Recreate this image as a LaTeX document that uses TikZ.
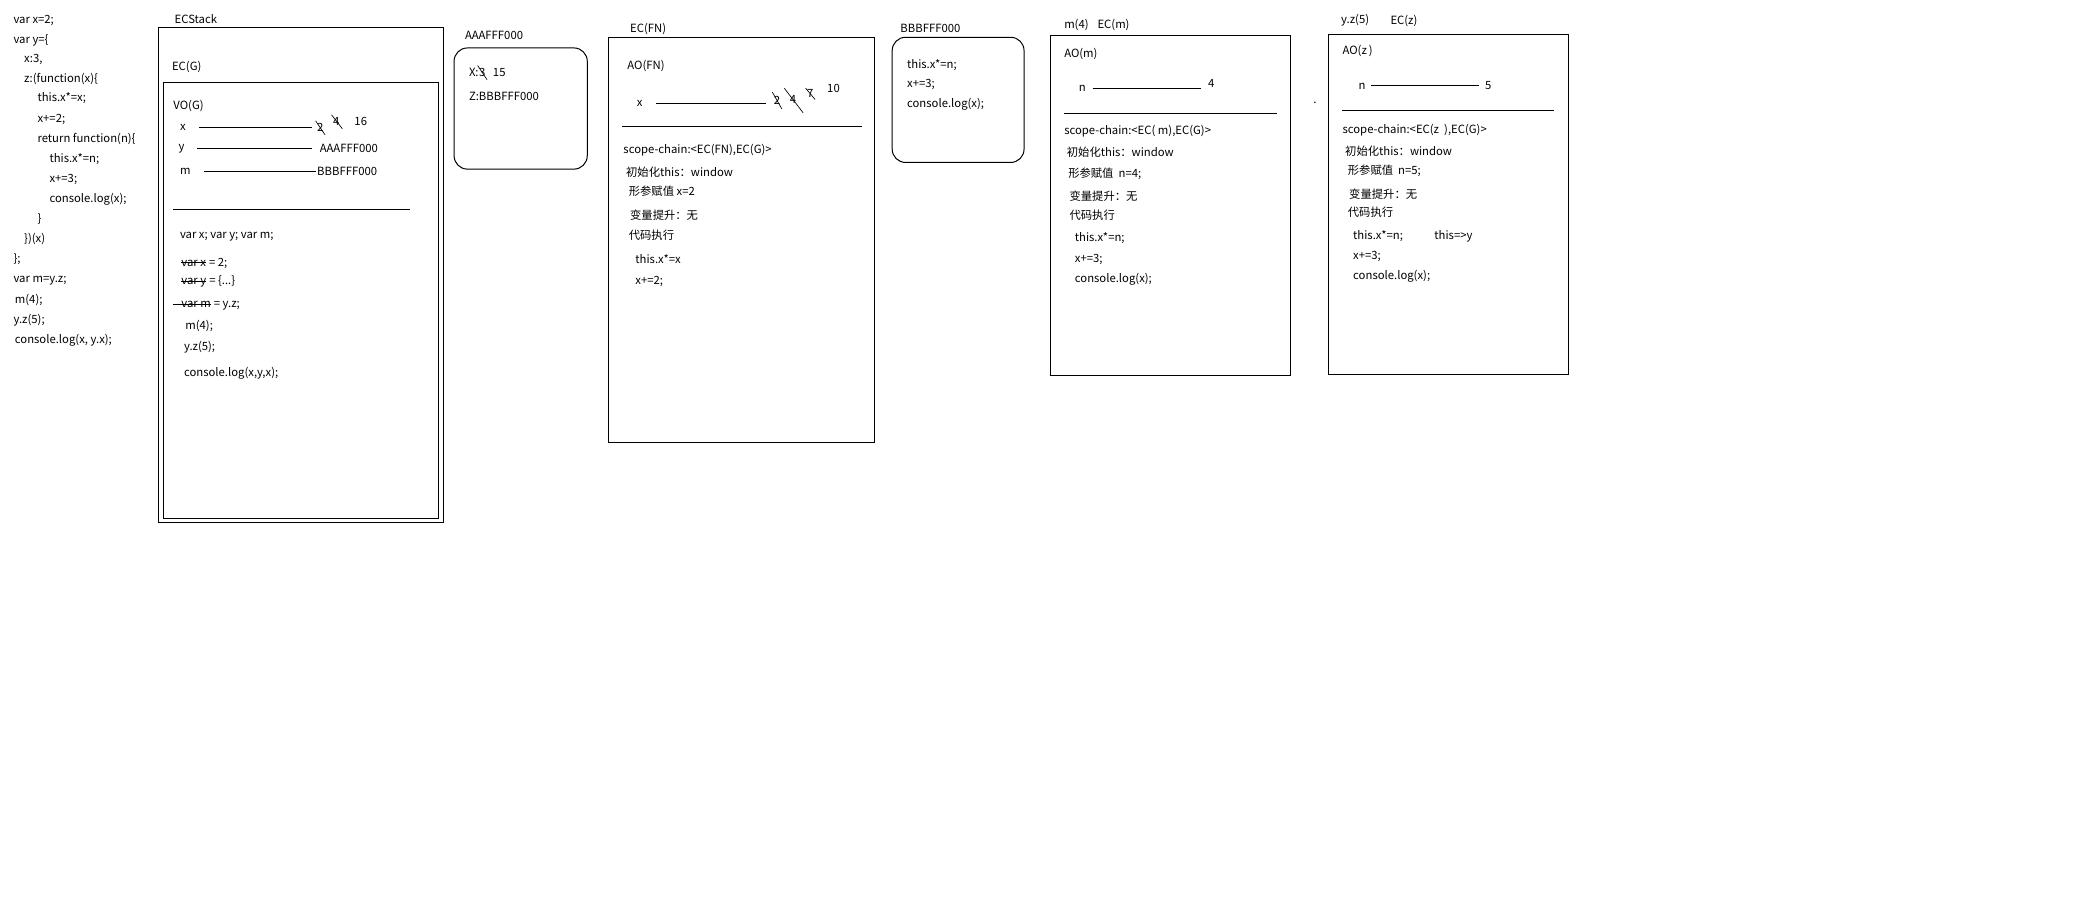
\documentclass[tikz,border=0pt]{standalone}
\usepackage{fontspec}
\setmainfont{Noto Sans CJK SC}
\usepackage{tikz}
\tikzstyle{txt} = [anchor=west, inner sep=0pt, yshift=-1.5pt, font=\fontsize{8.5}{10}\selectfont]
\tikzstyle{panel} = [draw=black, line width=0.75pt, inner sep=0pt, outer sep=0pt]
\tikzstyle{memo} = [panel, rounded corners=10pt]
\tikzstyle{link} = [line width=0.6pt]
\tikzstyle{cross} = [line width=0.5pt]

\begin{document}
\begin{tikzpicture}[x=1pt, y=-1pt]
    \useasboundingbox (0,0) rectangle (1568,679);

        % source code
        \node (c1) [txt] at (10,14) {var x=2;};
        \node (c2) [txt] at (10,29) {var y=\{};
        \node (c3) [txt] at (18,43) {x:3,};
        \node (c4) [txt] at (18,58) {z:(function(x)\{};
        \node (c5) [txt] at (28,72) {this.x*=x;};
        \node (c6) [txt] at (28,88) {x+=2;};
        \node (c7) [txt] at (28,103) {return function(n)\{};
        \node (c8) [txt] at (37,118) {this.x*=n;};
        \node (c9) [txt] at (37,133) {x+=3;};
        \node (c10) [txt] at (37,148) {console.log(x);};
        \node (c11) [txt] at (28,163) {\}};
        \node (c12) [txt] at (18,178) {\})(x)};
        \node (c13) [txt] at (10,193) {\};};
        \node (c14) [txt] at (10,209) {var m=y.z;};
        \node (c15) [txt] at (11,224) {m(4);};
        \node (c16) [txt] at (10,239) {y.z(5);};
        \node (c17) [txt] at (11,254) {console.log(x, y.x);};

        % ECStack / EC(G)
        \node (ecsl) [txt] at (131,13) {ECStack};
        \node (ecs) [panel, minimum width=214pt, minimum height=371pt] at (226,206.5) {};
        \node (ecgl) [txt] at (129,49) {EC(G)};
        \node (ecg) [panel, minimum width=206pt, minimum height=327pt] at (226,225.5) {};
        \node (vog) [txt] at (130,78) {VO(G)};
        \node (gx) [txt] at (135,94) {x};
        \node (gx2) [txt] at (238,94.5) {2};
        \node (gx4) [txt] at (250,90) {4};
        \node (gx16) [txt] at (266,90) {16};
        \node (gy) [txt] at (134,110) {y};
        \node (gya) [txt] at (240,110) {AAAFFF000};
        \node (gm) [txt] at (135,127) {m};
        \node (gmb) [txt] at (238,127) {BBBFFF000};
        \draw[link, shorten <=10pt, shorten >=4pt] (gx.east) -- (gx.east -| gx2.west);
        \draw[link, shorten <=9pt, shorten >=6pt] (gy.east) -- (gy.east -| gya.west);
        \draw[link, shorten <=10pt, shorten >=1pt] (gm.east) -- (gm.east -| gmb.west);
        \draw[cross] ([shift={(-1,-2)}]gx2.north west) -- ([shift={(1,2)}]gx2.south east);
        \draw[cross] ([shift={(-1,-2)}]gx4.north west) -- ([shift={(2,2)}]gx4.south east);
        \draw[link] (130,157) -- (308,157);
        \node (g1) [txt] at (135,176) {var x; var y; var m;};
        \node (g2) [txt] at (136,196) {var x};
        \node (g2v) [txt, anchor=base west, yshift=1.5pt] at (g2.base east) {\ = 2;};
        \node (g3) [txt] at (136,211) {var y};
        \node (g3v) [txt, anchor=base west, yshift=1.5pt] at (g3.base east) {\ = \{...\}};
        \node (g4) [txt] at (136,227) {var m};
        \node (g4v) [txt, anchor=base west, yshift=1.5pt] at (g4.base east) {\ = y.z;};
        \draw[cross] ([yshift=2.5pt]g2.base west) -- ([yshift=2.5pt]g2.base east);
        \draw[cross] ([yshift=2.5pt]g3.base west) -- ([yshift=2.5pt]g3.base east);
        \draw[cross] ([xshift=-6pt,yshift=2.5pt]g4.base west) -- ([yshift=2.5pt]g4.base east);
        \node (g5) [txt] at (139,243) {m(4);};
        \node (g6) [txt] at (138,259) {y.z(5);};
        \node (g7) [txt] at (138,279) {console.log(x,y,x);};

        % object AAAFFF000
        \node (al) [txt] at (349,25) {AAAFFF000};
        \node (aaa) [memo, minimum width=100pt, minimum height=91pt] at (391,81.5) {};
        \node (ax) [txt] at (352,53) {X:};
        \node (ax3) [txt, yshift=1.5pt] at (ax.east) {3};
        \node (ax15) [txt] at (370,53) {15};
        \node (az) [txt] at (352,71) {Z:BBBFFF000};
        \draw[cross] ([shift={(-1,-2)}]ax3.north west) -- ([shift={(1,2)}]ax3.south east);

        % EC(FN)
        \node (fnl) [txt] at (473,20) {EC(FN)};
        \node (ecfn) [panel, minimum width=200pt, minimum height=304pt] at (557,180) {};
        \node (fnao) [txt] at (471,48) {AO(FN)};
        \node (fx) [txt] at (478,76) {x};
        \node (fx2) [txt] at (581,74) {2};
        \node (fx4) [txt] at (593,73) {4};
        \node (fx7) [txt] at (606,69) {7};
        \node (fx10) [txt] at (621,65) {10};
        \draw[link, shorten <=10pt, shorten >=6pt] (fx.east) -- (fx.east -| fx2.west);
        \draw[cross] ([shift={(-1,-3)}]fx2.north west) -- ([shift={(1,3)}]fx2.south east);
        \draw[cross] ([shift={(-4,-5)}]fx4.north west) -- ([shift={(5,7)}]fx4.south east);
        \draw[cross] ([shift={(-1,-1)}]fx7.north west) -- ([shift={(1,1)}]fx7.south east);
        \draw[link] (467,95) -- (647,95);
        \node (fn1) [txt] at (468,111) {scope-chain:<EC(FN),EC(G)>};
        \node (fn2) [txt] at (470,128) {初始化this：window};
        \node (fn3) [txt] at (472,142) {形参赋值 x=2};
        \node (fn4) [txt] at (473,160) {变量提升：无};
        \node (fn5) [txt] at (472,175) {代码执行};
        \node (fn6) [txt] at (477,193) {this.x*=x};
        \node (fn7) [txt] at (477,210) {x+=2;};

        % object BBBFFF000
        \node (bl) [txt] at (676,20) {BBBFFF000};
        \node (bbb) [memo, minimum width=99pt, minimum height=94pt] at (719.5,75) {};
        \node (b1) [txt] at (681,47) {this.x*=n;};
        \node (b2) [txt] at (681,62) {x+=3;};
        \node (b3) [txt] at (681,77) {console.log(x);};

        % EC(m)
        \node (ml) [txt] at (799,17) {m(4)};
        \node (ecml) [txt] at (824,17) {EC(m)};
        \node (ecm) [panel, minimum width=180pt, minimum height=255pt] at (879,154.5) {};
        \node (mao) [txt] at (799,39) {AO(m)};
        \node (mn) [txt] at (810,65) {n};
        \node (mn4) [txt] at (907,61) {4};
        \draw[link, shorten <=5pt, shorten >=5pt] (mn.east) -- (mn.east -| mn4.west);
        \draw[link] (799,85) -- (959,85);
        \node (m1) [txt] at (799,97) {scope-chain:<EC( m),EC(G)>};
        \node (m2) [txt] at (801,113) {初始化this：window};
        \node (m3) [txt] at (802,129) {形参赋值\ \ n=4;};
        \node (m4) [txt] at (803,146) {变量提升：无};
        \node (m5) [txt] at (803,160) {代码执行};
        \node (m6) [txt] at (807,177) {this.x*=n;};
        \node (m7) [txt] at (807,193) {x+=3;};
        \node (m8) [txt] at (807,208) {console.log(x);};

        \node (dot) [txt] at (986,76) {.};

        % EC(z)
        \node (zl) [txt] at (1007,14) {y.z(5)};
        \node (eczl) [txt] at (1044,14) {EC(z)};
        \node (ecz) [panel, minimum width=180pt, minimum height=255pt] at (1088,153.5) {};
        \node (zao) [txt] at (1008,37) {AO(z\,)};
        \node (zn) [txt] at (1020,63) {n};
        \node (zn5) [txt] at (1115,63) {5};
        \draw[link, shorten <=4pt, shorten >=4pt] (zn.east) -- (zn.east -| zn5.west);
        \draw[link] (1008,83) -- (1167,83);
        \node (z1) [txt] at (1008,96) {scope-chain:<EC(z\ \ ),EC(G)>};
        \node (z2) [txt] at (1010,112) {初始化this：window};
        \node (z3) [txt] at (1012,127) {形参赋值\ \ n=5;};
        \node (z4) [txt] at (1013,144) {变量提升：无};
        \node (z5) [txt] at (1012,158) {代码执行};
        \node (z6) [txt] at (1016,176) {this.x*=n;};
        \node (z6b) [txt] at (1077,176) {this=>y};
        \node (z7) [txt] at (1016,191) {x+=3;};
        \node (z8) [txt] at (1016,206) {console.log(x);};

\end{tikzpicture}
\end{document}
